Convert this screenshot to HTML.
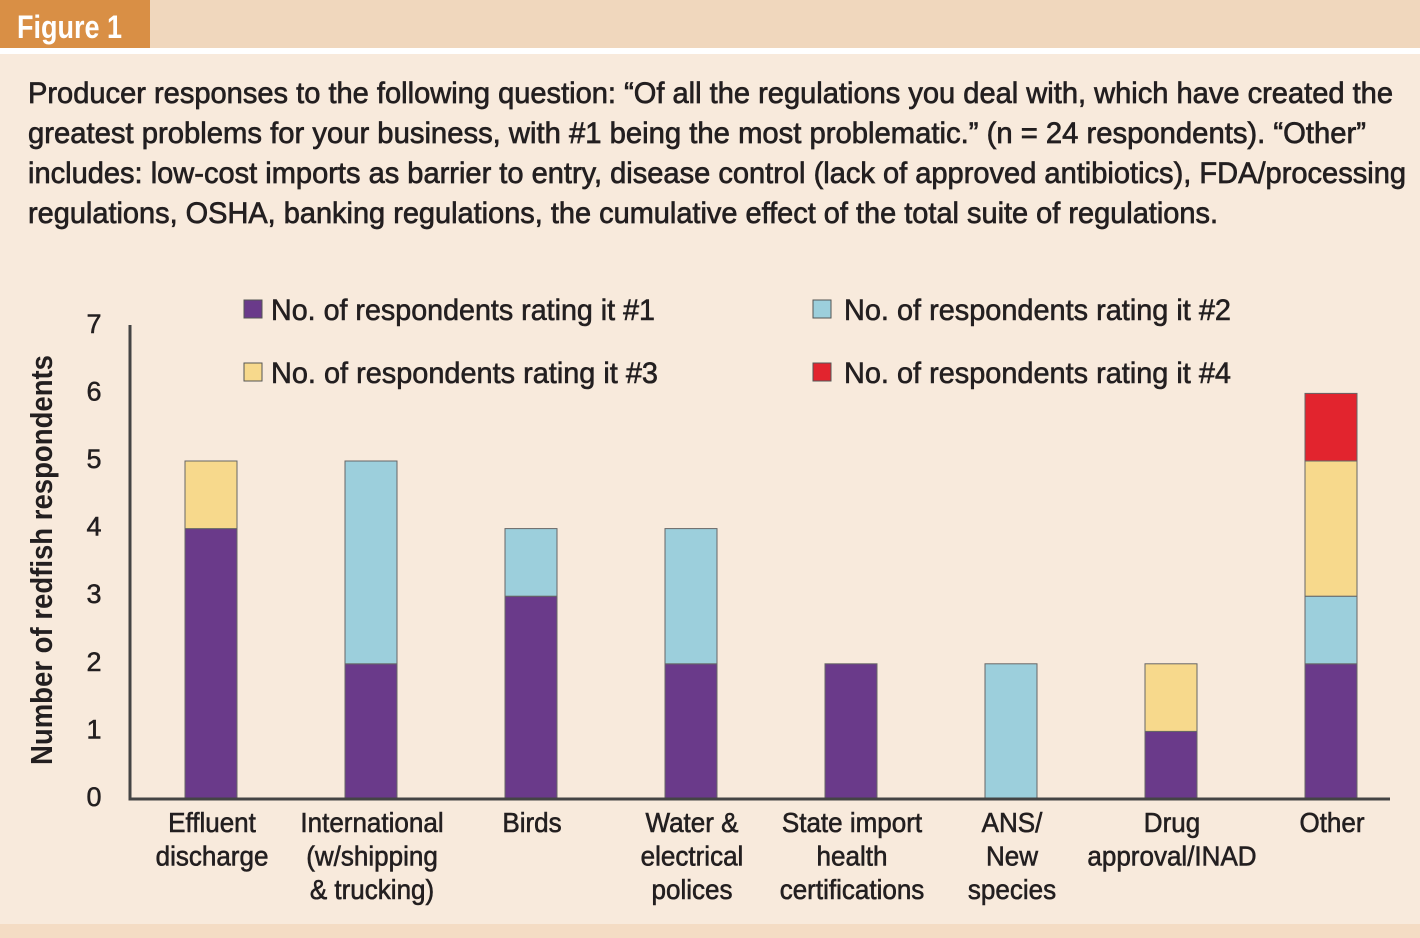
<!DOCTYPE html>
<html><head><meta charset="utf-8"><style>
html,body{margin:0;padding:0;background:#f8eadc;}
svg{display:block;font-family:"Liberation Sans Narrow","Liberation Sans",sans-serif;}
</style></head><body>
<svg id="chart" width="1420" height="938" viewBox="0 0 1420 938">
<rect x="0" y="0" width="1420" height="938" fill="#f8eadc"/>
<rect x="0" y="0" width="1420" height="48" fill="#f0d7bd"/>
<rect x="0" y="0" width="150" height="48" fill="#d98f45"/>
<text x="17" y="38" font-size="32" font-weight="bold" fill="#fff" textLength="105" lengthAdjust="spacingAndGlyphs">Figure 1</text>
<rect x="0" y="48" width="1420" height="6" fill="#fff"/>
<rect x="0" y="924" width="1420" height="14" fill="#f4dcc4"/>
<g fill="#231f20" stroke="#231f20" stroke-width="0.7" font-size="30">
<text x="28" y="103" textLength="1365" lengthAdjust="spacingAndGlyphs">Producer responses to the following question: “Of all the regulations you deal with, which have created the</text>
<text x="28" y="143" textLength="1338" lengthAdjust="spacingAndGlyphs">greatest problems for your business, with #1 being the most problematic.” (n = 24 respondents). “Other”</text>
<text x="28" y="183" textLength="1378" lengthAdjust="spacingAndGlyphs">includes: low-cost imports as barrier to entry, disease control (lack of approved antibiotics), FDA/processing</text>
<text x="28" y="223" textLength="1190" lengthAdjust="spacingAndGlyphs">regulations, OSHA, banking regulations, the cumulative effect of the total suite of regulations.</text>
</g>
<text transform="translate(52,560) rotate(-90)" text-anchor="middle" font-size="31" font-weight="bold" fill="#231f20" textLength="410" lengthAdjust="spacingAndGlyphs">Number of redfish respondents</text>
<g id="legend" font-size="30" fill="#231f20" stroke="#231f20" stroke-width="0.6">
<rect x="244" y="300" width="18" height="18" fill="#6a3a8a" stroke="#555" stroke-width="1"/>
<text x="271" y="320" textLength="384" lengthAdjust="spacingAndGlyphs">No. of respondents rating it #1</text>
<rect x="813" y="300" width="18" height="18" fill="#9ccfdc" stroke="#555" stroke-width="1"/>
<text x="844" y="320" textLength="387" lengthAdjust="spacingAndGlyphs">No. of respondents rating it #2</text>
<rect x="244" y="363" width="18" height="18" fill="#f7d98c" stroke="#555" stroke-width="1"/>
<text x="271" y="383" textLength="387" lengthAdjust="spacingAndGlyphs">No. of respondents rating it #3</text>
<rect x="813" y="363" width="18" height="18" fill="#e2242e" stroke="#555" stroke-width="1"/>
<text x="844" y="383" textLength="387" lengthAdjust="spacingAndGlyphs">No. of respondents rating it #4</text>
</g>
<g id="plot"></g>
</svg>
<script>
const categories = [["Effluent","discharge"],["International","(w/shipping","& trucking)"],["Birds"],["Water &","electrical","polices"],["State import","health","certifications"],["ANS/","New","species"],["Drug","approval/INAD"],["Other"]];
const rank1 = [4,2,3,2,2,0,1,2];
const rank2 = [0,3,1,2,0,2,0,1];
const rank3 = [1,0,0,0,0,0,1,2];
const rank4 = [0,0,0,0,0,0,0,1];
const yTicks = [0,1,2,3,4,5,6,7];
const seriesColors = ["#6a3a8a","#9ccfdc","#f7d98c","#e2242e"];
const NS="http://www.w3.org/2000/svg";
const plot=document.getElementById('plot');
const y0=799, unit=67.6, x0=211, step=160, bw=52;
function yS(v){return y0-v*unit;}
function xS(i){return x0+i*step;}
function mk(t,a){const e=document.createElementNS(NS,t);for(const k in a)e.setAttribute(k,a[k]);plot.appendChild(e);return e;}
yTicks.forEach(v=>{
  const t=mk('text',{x:94,y:yS(v)+7,'text-anchor':'middle','font-size':27,fill:'#231f20',stroke:'#231f20','stroke-width':0.5});
  t.textContent=v;
  
  
});
const series=[rank1,rank2,rank3,rank4];
categories.forEach((c,i)=>{
  let acc=0;
  series.forEach((s,k)=>{
    const v=s[i]; if(!v) return;
    const r=mk('rect',{x:xS(i)-bw/2,y:yS(acc+v),width:bw,height:v*unit,fill:seriesColors[k],stroke:'#666','stroke-width':1});
    
    
    acc+=v;
  });
  c.forEach((line,j)=>{
    const cx=xS(i)+1;
    const t=mk('text',{x:0,y:0,'text-anchor':'middle','font-size':28,fill:'#231f20',stroke:'#231f20','stroke-width':0.6,transform:'translate('+cx+','+(832+j*33.5)+') scale(0.93,1)'});
    t.textContent=line;
    
    
  });
});
const ax=mk('path',{d:'M130 325 V799 H1390',fill:'none',stroke:'#444','stroke-width':3});


</script>
</body></html>
